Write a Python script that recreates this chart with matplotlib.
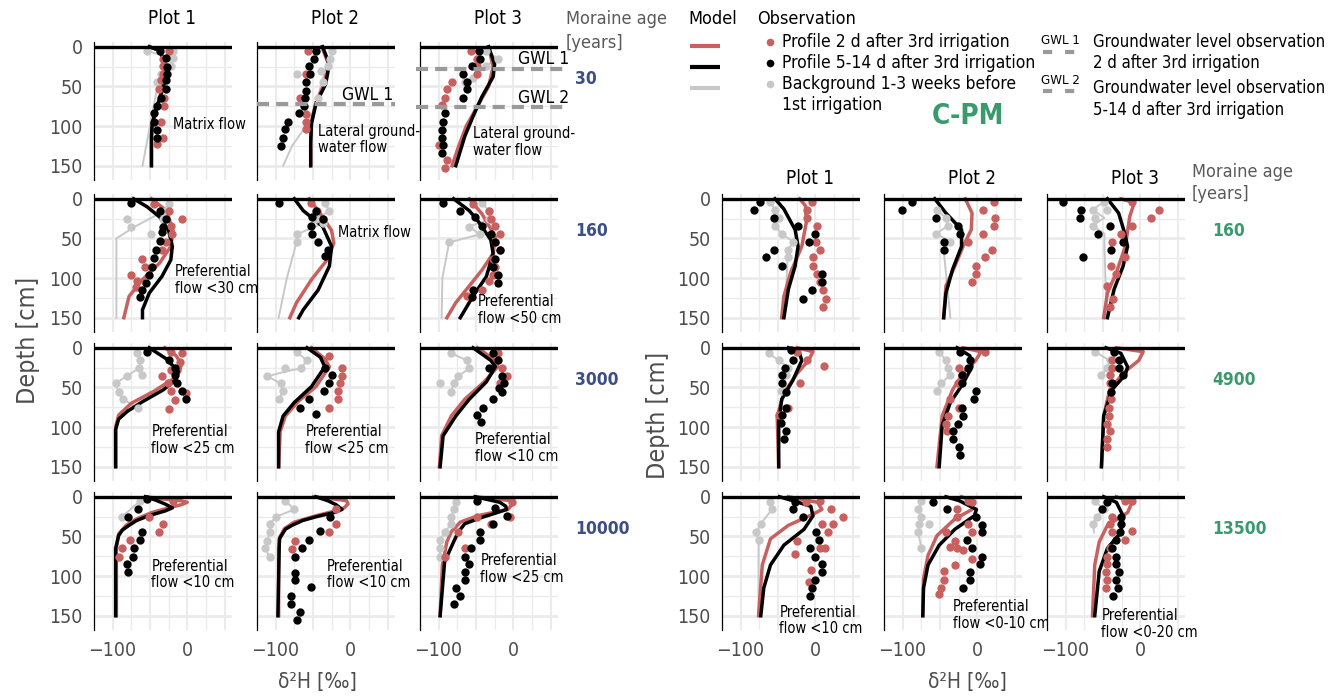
"""Isotope depth profiles (d2H) for S-PM and C-PM moraine chronosequences."""

import matplotlib
matplotlib.use("Agg")
import matplotlib.pyplot as plt

plt.rcParams['font.family'] = ['DejaVu Sans']
plt.rcParams['font.stretch'] = 'condensed'

W, H = 1342, 696

RED = '#c8605f'
GREY = '#c8c8c8'
GRID = '#ebebeb'
TICK = '#4d4d4d'
BLUE = '#3b4f86'
GREEN = '#3a9a6e'

# Every series is a list of (depth [cm], d2H [permil]) pairs.
# *_red_line / *_black_line / *_grey_line : model (2 d, 5-14 d, background)
# *_red_obs / *_black_obs / *_grey_obs   : observations

# ---- S-PM, moraine age 30 years ----
s30_p1_red_line = [(0, -50), (5, -37), (20, -31), (45, -32), (65, -37), (80, -43), (100, -47), (120, -48), (150, -48)]
s30_p1_black_line = [(0, -51), (5, -36), (22, -30), (47, -31), (63, -36), (80, -42), (97, -47), (113, -48), (150, -48)]
s30_p1_grey_line = [(5, -54), (15, -20), (25, -24), (35, -33), (55, -41), (150, -60)]
s30_p1_red_obs = [(5, -25), (16, -32), (24, -33), (34, -32), (42, -35), (53, -38), (64, -31), (75, -31), (95, -35), (115, -33), (122, -41)]
s30_p1_black_obs = [(5, -36), (14, -28), (25, -27), (34, -27), (42, -28), (53, -29), (64, -35), (75, -41), (84, -45), (95, -44), (105, -41), (115, -41)]
s30_p1_grey_obs = [(5, -54), (5, -19), (14, -19), (24, -22), (34, -35), (45, -40)]

s30_p2_red_line = [(0, -38), (20, -30), (45, -34), (70, -46), (95, -52), (120, -53), (150, -53)]
s30_p2_black_line = [(0, -37), (22, -28), (47, -33), (72, -46), (97, -52), (120, -53), (150, -53)]
s30_p2_grey_line = [(5, -24), (15, -27), (25, -30), (40, -37), (55, -41), (75, -46), (105, -63), (125, -78), (150, -90)]
s30_p2_red_obs = [(5, -56), (34, -59), (64, -68), (85, -59), (95, -59), (104, -59)]
s30_p2_black_obs = [(5, -46), (15, -48), (24, -55), (34, -54), (45, -59), (56, -59), (64, -61), (75, -62), (84, -69), (95, -84), (104, -87), (115, -90), (125, -93)]
s30_p2_grey_obs = [(5, -24), (15, -27), (24, -30), (30, -39), (34, -71), (45, -37), (64, -43)]

s30_p3_red_line = [(0, -33), (25, -27), (50, -33), (75, -48), (100, -63), (125, -73), (150, -82)]
s30_p3_black_line = [(0, -33), (22, -25), (38, -27), (63, -42), (88, -54), (113, -65), (150, -77)]
s30_p3_grey_line = [(5, -36), (15, -21), (24, -36), (39, -54), (45, -65)]
s30_p3_red_obs = [(5, -57), (16, -48), (24, -48), (34, -48), (45, -82), (53, -89), (64, -92), (73, -95), (124, -99), (143, -89), (153, -92)]
s30_p3_black_obs = [(5, -46), (15, -45), (24, -55), (34, -68), (45, -62), (53, -62), (64, -68), (84, -92), (95, -94), (105, -95), (115, -95), (124, -94), (134, -95)]
s30_p3_grey_obs = [(5, -36), (15, -21), (24, -36), (39, -54), (45, -65)]

# ---- S-PM, moraine age 160 years ----
s160_p1_red_line = [(0, -48), (15, -28), (40, -19), (60, -22), (81, -37), (102, -60), (123, -78), (150, -85)]
s160_p1_black_line = [(0, -72), (10, -54), (23, -37), (40, -25), (60, -20), (77, -22), (98, -34), (119, -51), (140, -60), (150, -60)]
s160_p1_grey_line = [(5, -25), (15, -30), (35, -70), (50, -95), (150, -95)]
s160_p1_red_obs = [(6, -45), (15, -25), (26, -7), (34, -22), (45, -20), (54, -28), (65, -34), (76, -60), (86, -57), (96, -75), (104, -67), (111, -69)]
s160_p1_black_obs = [(5, -75), (15, -37), (26, -28), (35, -32), (42, -34), (53, -37), (65, -42), (75, -45), (86, -47), (96, -51), (106, -55), (115, -60), (124, -63)]
s160_p1_grey_obs = [(6, -25), (15, -30), (26, -81), (35, -75), (44, -48), (25, -33)]

s160_p2_red_line = [(0, -55), (19, -40), (40, -25), (56, -22), (77, -31), (102, -52), (131, -72), (150, -81)]
s160_p2_black_line = [(0, -75), (15, -63), (35, -37), (60, -25), (85, -28), (115, -43), (140, -63), (150, -69)]
s160_p2_grey_line = [(5, -34), (15, -28), (26, -46), (31, -37), (45, -72), (55, -72), (100, -85), (150, -96)]
s160_p2_red_obs = [(5, -52), (15, -45), (25, -37)]
s160_p2_black_obs = [(5, -96), (15, -46), (23, -51), (26, -37), (34, -52), (44, -51), (54, -43), (65, -30), (72, -34)]
s160_p2_grey_obs = [(5, -34), (15, -28), (26, -46), (31, -37), (45, -72), (55, -72)]

s160_p3_red_line = [(0, -59), (19, -42), (48, -24), (69, -27), (90, -42), (110, -59), (131, -77), (150, -89)]
s160_p3_black_line = [(0, -80), (15, -59), (27, -48), (52, -30), (69, -27), (98, -36), (123, -54), (150, -71)]
s160_p3_grey_line = [(5, -42), (15, -33), (26, -33), (35, -59), (45, -45), (55, -86), (100, -95), (150, -96)]
s160_p3_red_obs = [(6, -54), (15, -33), (26, -30), (34, -25), (45, -18), (55, -24), (65, -18), (76, -27), (86, -24), (96, -27), (104, -33), (115, -42), (123, -62)]
s160_p3_black_obs = [(5, -94), (15, -71), (23, -51), (34, -42), (44, -30), (54, -24), (65, -18), (76, -24), (86, -27), (96, -21), (106, -21), (115, -54), (124, -55)]
s160_p3_grey_obs = [(5, -42), (15, -33), (26, -33), (35, -59), (45, -45), (55, -86)]

# ---- S-PM, moraine age 3000 years ----
s3000_p1_red_line = [(0, -30), (10, -15), (20, -8), (30, -10), (40, -20), (55, -45), (70, -75), (85, -92), (100, -96), (150, -96)]
s3000_p1_black_line = [(0, -51), (14, -28), (30, -12), (40, -15), (53, -32), (68, -60), (80, -80), (90, -92), (103, -96), (150, -96)]
s3000_p1_grey_line = [(7, -67), (16, -63), (26, -65), (35, -80), (45, -96), (56, -92), (65, -86), (76, -66)]
s3000_p1_red_obs = [(5, -22), (7, -7), (18, -10), (28, -22), (36, -34), (45, -26), (55, -22), (57, -1), (66, -16), (77, -24)]
s3000_p1_black_obs = [(5, -54), (16, -25), (25, -16), (34, -16), (45, -14), (55, -7), (64, -2)]
s3000_p1_grey_obs = [(7, -67), (16, -63), (26, -65), (34, -60), (36, -81), (45, -96), (56, -92), (65, -86), (76, -66)]

s3000_p2_red_line = [(0, -52), (14, -34), (24, -28), (49, -46), (67, -69), (86, -87), (106, -94), (150, -96)]
s3000_p2_black_line = [(0, -58), (12, -40), (24, -34), (49, -52), (69, -75), (86, -90), (106, -96), (150, -96)]
s3000_p2_grey_line = [(5, -72), (16, -58), (26, -66), (30, -87), (36, -111), (45, -93), (55, -90), (65, -96)]
s3000_p2_red_obs = [(10, -28), (26, -11), (36, -11), (45, -14), (55, -17), (65, -17), (76, -28)]
s3000_p2_black_obs = [(25, -34), (34, -25), (45, -28), (55, -35), (65, -55), (76, -68), (83, -46)]
s3000_p2_grey_obs = [(5, -72), (16, -58), (26, -87), (26, -66), (36, -111), (45, -93), (55, -90), (65, -96)]

s3000_p3_red_line = [(0, -48), (16, -24), (24, -21), (43, -39), (65, -65), (86, -83), (111, -96), (150, -99)]
s3000_p3_black_line = [(0, -54), (16, -30), (24, -24), (43, -36), (65, -59), (86, -77), (111, -94), (150, -98)]
s3000_p3_grey_line = [(7, -83), (16, -62), (26, -59), (36, -74), (45, -80), (56, -83)]
s3000_p3_red_obs = [(7, -21), (26, -15), (36, -9), (45, -18)]
s3000_p3_black_obs = [(7, -27), (16, -21), (26, -33), (36, -15), (45, -12), (51, -19), (56, -15), (65, -27), (76, -41), (85, -48), (93, -43)]
s3000_p3_grey_obs = [(7, -83), (16, -62), (26, -59), (36, -74), (45, -80), (45, -98), (56, -83)]

# ---- S-PM, moraine age 10000 years ----
s10000_p1_red_line = [(0, -56), (3, -30), (5, -8), (7, 0), (10, -8), (14, -25), (20, -48), (28, -68), (36, -82), (47, -92), (65, -95), (150, -95)]
s10000_p1_black_line = [(0, -56), (4, -43), (9, -30), (14, -20), (18, -30), (24, -52), (30, -68), (36, -78), (42, -87), (49, -92), (65, -96), (150, -96)]
s10000_p1_grey_line = [(5, -63), (25, -87), (30, -88)]
s10000_p1_red_obs = [(5, -19), (25, -51), (34, -32), (45, -38), (55, -77), (65, -87), (76, -92)]
s10000_p1_black_obs = [(3, -54), (16, -66), (25, -79), (45, -61), (55, -63), (65, -71), (76, -73), (85, -81), (95, -79)]
s10000_p1_grey_obs = [(5, -63), (25, -87)]

s10000_p2_red_line = [(0, -49), (3, -20), (5, -5), (9, -3), (14, -8), (19, -25), (24, -46), (32, -75), (40, -88), (50, -94), (65, -96), (150, -96)]
s10000_p2_black_line = [(0, -46), (5, -30), (10, -19), (16, -11), (20, -22), (25, -45), (30, -64), (36, -78), (41, -87), (53, -95), (150, -97)]
s10000_p2_grey_line = [(5, -87), (16, -75), (25, -99), (34, -108), (45, -108), (56, -111), (65, -114), (76, -108)]
s10000_p2_red_obs = [(16, -19), (34, -19), (45, -28), (56, -74), (66, -78)]
s10000_p2_black_obs = [(25, -27), (43, -41), (55, -55), (65, -65), (76, -74), (96, -74), (105, -74), (114, -52), (125, -80), (135, -80), (145, -68), (155, -71)]
s10000_p2_grey_obs = [(5, -87), (16, -75), (25, -99), (34, -108), (45, -108), (56, -111), (65, -114), (76, -108)]

s10000_p3_red_line = [(0, -51), (3, -20), (5, -3), (9, -1), (16, -7), (20, -28), (24, -48), (32, -71), (44, -83), (57, -89), (86, -95), (150, -98)]
s10000_p3_black_line = [(0, -51), (4, -32), (7, -18), (12, -10), (16, -9), (21, -25), (26, -42), (34, -65), (45, -74), (57, -80), (82, -92), (150, -98)]
s10000_p3_grey_line = [(7, -77), (16, -80), (26, -83), (34, -83), (45, -92), (55, -98), (65, -98), (76, -98)]
s10000_p3_red_obs = [(7, -2), (25, -4), (26, -48), (34, -30), (45, -74), (65, -65), (76, -92)]
s10000_p3_black_obs = [(5, -48), (14, -24), (24, -9), (34, -27), (45, -45), (55, -45), (65, -57), (76, -65), (85, -59), (95, -65), (105, -65), (115, -77), (125, -71), (135, -80)]
s10000_p3_grey_obs = [(7, -77), (16, -80), (26, -83), (34, -83), (45, -92), (55, -98), (65, -98), (76, -98)]

# ---- C-PM, moraine age 160 years ----
c160_p1_red_line = [(0, -21), (9, -13), (30, -12), (60, -18), (93, -33), (123, -42), (150, -45)]
c160_p1_black_line = [(0, -54), (13, -42), (39, -27), (60, -23), (85, -27), (114, -36), (150, -42)]
c160_p1_grey_line = [(4, -60), (14, -54), (24, -48), (34, -54), (44, -45), (54, -30), (65, -36), (74, -37), (150, -41)]
c160_p1_red_obs = [(4, -5), (14, -11), (24, -11), (34, 3), (54, 1), (65, 7), (74, -3), (85, -3), (95, 3), (105, 6), (115, 11), (126, 14), (136, 11)]
c160_p1_black_obs = [(4, -74), (14, -82), (24, -55), (34, -23), (44, 0), (54, -9), (65, -55), (74, -66), (85, -45), (95, 9), (105, 9), (115, -5), (126, -17)]
c160_p1_grey_obs = [(4, -60), (14, -54), (24, -48), (34, -54), (44, -45), (54, -30), (65, -36), (74, -37)]

c160_p2_red_line = [(0, -16), (18, -7), (39, -8), (60, -19), (85, -30), (110, -42), (150, -45)]
c160_p2_black_line = [(0, -57), (18, -42), (39, -21), (60, -21), (89, -33), (119, -42), (150, -45)]
c160_p2_grey_line = [(14, -54), (24, -42), (34, -39), (44, -55), (54, -36), (65, -45), (150, -36)]
c160_p2_red_obs = [(4, 23), (14, 8), (24, 24), (34, 22), (44, 8), (54, -13), (65, 20), (74, 10), (85, -2), (95, -2), (105, -7)]
c160_p2_black_obs = [(4, -87), (14, -101), (24, -55), (34, -26), (44, -23), (54, -45), (65, -45)]
c160_p2_grey_obs = [(14, -54), (24, -42), (34, -39), (44, -55), (54, -36), (65, -45)]

c160_p3_red_line = [(0, -26), (5, -8), (22, -14), (60, -20), (93, -32), (119, -44), (150, -49)]
c160_p3_black_line = [(0, -44), (18, -29), (43, -21), (60, -17), (85, -23), (114, -35), (150, -44)]
c160_p3_grey_line = [(4, -49), (14, -64), (24, -48), (34, -64), (44, -48), (60, -48), (150, -45)]
c160_p3_red_obs = [(4, -11), (14, 25), (24, 14), (34, -11), (44, -26), (54, -38), (74, -20), (85, -39), (95, -33), (110, -44), (126, -36), (136, -41)]
c160_p3_black_obs = [(4, -103), (14, -79), (24, -81), (34, -41), (44, -57), (54, -23), (65, -39), (74, -77)]
c160_p3_grey_obs = [(4, -49), (14, -64), (24, -61), (34, -64), (14, -45)]

# ---- C-PM, moraine age 4900 years ----
c4900_p1_red_line = [(0, -24), (5, -3), (16, -9), (32, -24), (57, -42), (86, -51), (150, -49)]
c4900_p1_black_line = [(0, -36), (7, -21), (16, -18), (41, -30), (65, -45), (94, -49), (150, -49)]
c4900_p1_grey_line = [(7, -62), (16, -49), (25, -36), (34, -39), (55, -46)]
c4900_p1_red_obs = [(5, -25), (16, -11), (23, 12), (45, -21), (76, -36), (85, -49)]
c4900_p1_black_obs = [(3, -33), (16, -30), (25, -41), (34, -45), (45, -45), (56, -39), (76, -39), (85, -45), (95, -46), (105, -39), (115, -42)]
c4900_p1_grey_obs = [(7, -62), (16, -49), (25, -36), (34, -39), (55, -46)]

c4900_p2_red_line = [(0, -19), (5, 5), (16, -2), (32, -19), (53, -33), (86, -47), (150, -54)]
c4900_p2_black_line = [(0, -27), (10, -10), (24, -7), (45, -19), (69, -36), (98, -47), (150, -51)]
c4900_p2_grey_line = [(5, -51), (16, -42), (26, -39), (34, -36), (45, -48), (55, -54)]
c4900_p2_red_obs = [(5, 10), (26, -24), (34, -20), (45, -26), (65, -36), (76, -24), (86, -39), (96, -42), (105, -41)]
c4900_p2_black_obs = [(5, -23), (16, -10), (25, -13), (34, -21), (45, -20), (55, -1), (65, -4), (76, -20), (86, -19), (96, -26), (105, -32), (115, -32), (125, -24), (135, -23)]
c4900_p2_grey_obs = [(5, -51), (16, -42), (26, -39), (34, -36), (45, -48), (55, -54)]

c4900_p3_red_line = [(0, -32), (5, 4), (16, -2), (32, -23), (53, -41), (86, -49), (150, -52)]
c4900_p3_black_line = [(0, -46), (7, -26), (24, -17), (34, -20), (53, -38), (86, -49), (150, -52)]
c4900_p3_grey_line = [(5, -61), (16, -41), (26, -44), (34, -52)]
c4900_p3_red_obs = [(16, -38), (26, -38), (34, -41), (45, -41), (65, -39), (76, -42), (86, -42), (96, -44), (105, -41), (115, -44), (125, -44)]
c4900_p3_black_obs = [(5, -35), (16, -29), (25, -29), (34, -23), (45, -38), (56, -39)]
c4900_p3_grey_obs = [(5, -61), (16, -41), (26, -44), (34, -52)]

# ---- C-PM, moraine age 13500 years ----
c13500_p1_red_line = [(0, -36), (7, 3), (16, 9), (22, -3), (36, -36), (53, -60), (86, -71), (150, -76)]
c13500_p1_black_line = [(0, -48), (5, -30), (12, -6), (24, -3), (41, -15), (61, -42), (86, -60), (115, -69), (150, -73)]
c13500_p1_grey_line = [(7, -61), (16, -58), (34, -73), (45, -79), (55, -76), (150, -76)]
c13500_p1_red_obs = [(7, -13), (5, 6), (16, 21), (26, 37), (34, 9), (34, 24), (45, 17), (56, -25), (65, 7), (65, 13), (72, -27), (92, -6), (107, -9)]
c13500_p1_black_obs = [(7, -27), (15, -30), (25, -17), (45, 1), (55, 5), (65, -7), (76, 0), (85, 9), (95, 9), (105, 0), (115, -5), (125, -7)]
c13500_p1_grey_obs = [(7, -61), (16, -58), (34, -73), (45, -79), (55, -76)]

c13500_p2_red_line = [(0, -21), (5, -7), (16, -7), (28, -30), (49, -54), (74, -66), (103, -72), (150, -73)]
c13500_p2_black_line = [(0, -42), (5, -24), (16, -1), (24, -4), (41, -30), (61, -51), (86, -66), (115, -72), (150, -73)]
c13500_p2_grey_line = [(5, -75), (16, -79), (25, -75), (34, -78), (45, -79), (65, -75)]
c13500_p2_red_obs = [(5, -13), (7, -7), (16, -27), (26, -27), (34, -13), (45, -42), (45, -7), (56, -30), (63, -36), (65, -27), (67, -19), (78, -7), (86, -30), (94, -44), (105, -44), (115, -49), (123, -51)]
c13500_p2_black_obs = [(7, -59), (16, -41), (26, -2), (36, 7), (45, 7), (55, -14), (65, -7), (76, 7), (85, 4), (95, -10), (105, -10), (115, -19)]
c13500_p2_grey_obs = [(5, -75), (16, -79), (25, -75), (34, -78), (34, -65), (45, -79), (65, -75)]

c13500_p3_red_line = [(0, -32), (7, -11), (20, -17), (36, -44), (57, -55), (86, -61), (150, -64)]
c13500_p3_black_line = [(0, -49), (7, -32), (24, -23), (45, -26), (65, -44), (94, -55), (150, -61)]
c13500_p3_grey_line = [(5, -61), (16, -49), (25, -58), (34, -63), (45, -62)]
c13500_p3_red_obs = [(5, -20), (5, -11), (26, -38), (34, -41), (43, -11), (45, -38), (55, -20), (65, -41), (76, -44), (85, -44), (95, -46), (105, -44), (115, -46)]
c13500_p3_black_obs = [(7, -44), (16, -51), (25, -26), (34, -26), (45, -27), (55, -32), (65, -38), (76, -32), (85, -32), (95, -29), (105, -32), (115, -30), (125, -36)]
c13500_p3_grey_obs = [(5, -61), (16, -49), (25, -58), (34, -63)]

# Groundwater levels (depth cm) at the 30-year S-PM site
gwl_plot2 = [72]
gwl_plot3 = [28, 76]

s_pm_ages = ['30', '160', '3000', '10000']
c_pm_ages = ['160', '4900', '13500']
plot_names = ['Plot 1', 'Plot 2', 'Plot 3']
x_ticks = [-100, 0]
y_ticks = [0, 50, 100, 150]


def series(name):
    pairs = globals()[name]
    return [p[1] for p in pairs], [p[0] for p in pairs]


def ftext(x, y, s, **kw):
    """Figure text placed in pixel coordinates (origin top-left)."""
    kw.setdefault('va', 'center')
    fig.text(x / W, 1 - y / H, s, **kw)


def new_axes(x, y, w=138, h=138):
    return fig.add_axes([x / W, 1 - (y + h) / H, w / W, h / H])


def draw_panel(ax, prefix, plot_no):
    key = f"{prefix}_p{plot_no}"
    ax.set_xlim(-125, 60)
    ax.set_ylim(168, -6)
    for v in range(-100, 51, 25):
        ax.axvline(v, color=GRID, lw=1.5 if v % 50 == 0 else 1.0, zorder=0)
    for d in range(0, 151, 25):
        ax.axhline(d, color=GRID, lw=2.0 if d % 50 == 0 else 1.0, zorder=0)

    ax.plot(*series(key + '_grey_line'), color=GREY, lw=1.4, zorder=2)
    ax.plot(*series(key + '_red_line'), color=RED, lw=2.5, zorder=3)
    ax.plot(*series(key + '_black_line'), color='black', lw=2.5, zorder=4)
    ax.plot(*series(key + '_grey_obs'), 'o', color=GREY, ms=6, mec='none', zorder=5)
    ax.plot(*series(key + '_red_obs'), 'o', color=RED, ms=6, mec='none', zorder=6)
    ax.plot(*series(key + '_black_obs'), 'o', color='black', ms=6, mec='none', zorder=7)

    ax.axhline(0, color='black', lw=2.4, zorder=8)
    for s in ['top', 'right', 'bottom']:
        ax.spines[s].set_visible(False)
    ax.spines['left'].set_linewidth(0.9)
    ax.tick_params(length=0, labelsize=14, labelcolor=TICK, pad=8)
    ax.set_xticks(x_ticks)
    ax.set_yticks(y_ticks)
    ax.set_xticklabels([])
    ax.set_yticklabels([])


def annotate(ax, x, y, s):
    ax.text(x, y, s, fontsize=10.5, ha='left', va='center', linespacing=1.15, zorder=10)


fig = plt.figure(figsize=(W / 100, H / 100), dpi=100)

left_x = [94, 257, 420]
right_x = [722, 884, 1047]
row_y = [42, 194, 343, 492]
s_prefixes = ['s30', 's160', 's3000', 's10000']
c_prefixes = ['c160', 'c4900', 'c13500']

axes_s = [[None] * 3 for _ in range(4)]
axes_c = [[None] * 3 for _ in range(3)]

for r, prefix in enumerate(s_prefixes):
    for c in range(3):
        ax = new_axes(left_x[c], row_y[r])
        draw_panel(ax, prefix, c + 1)
        axes_s[r][c] = ax
        if c == 0:
            ax.set_yticklabels([str(t) for t in y_ticks])
        if r == 3:
            ax.set_xticklabels(['\u2212100', '0'])

for r, prefix in enumerate(c_prefixes):
    for c in range(3):
        ax = new_axes(right_x[c], row_y[r + 1])
        draw_panel(ax, prefix, c + 1)
        axes_c[r][c] = ax
        if c == 0:
            ax.set_yticklabels([str(t) for t in y_ticks])
        if r == 2:
            ax.set_xticklabels(['\u2212100', '0'])

# groundwater levels
gwl_style = dict(color='#9a9a9a', lw=3, dashes=(2.9, 1.7), zorder=9)
for d in gwl_plot2:
    axes_s[0][1].axhline(d, **gwl_style)
for d in gwl_plot3:
    axes_s[0][2].plot([-130, 68], [d, d], clip_on=False, **gwl_style)
axes_s[0][1].text(-11, 61, 'GWL 1', fontsize=12.5, va='center')
axes_s[0][2].text(7, 16, 'GWL 1', fontsize=12.5, va='center')
axes_s[0][2].text(7, 64, 'GWL 2', fontsize=12.5, va='center')

# flow-type annotations
annotate(axes_s[0][0], -19, 98, 'Matrix flow')
annotate(axes_s[0][1], -43, 117, 'Lateral ground-\nwater flow')
annotate(axes_s[0][2], -54, 120, 'Lateral ground-\nwater flow')
annotate(axes_s[1][0], -17, 102, 'Preferential\nflow <30 cm')
annotate(axes_s[1][1], -17, 43, 'Matrix flow')
annotate(axes_s[1][2], -47, 140, 'Preferential\nflow <50 cm')
annotate(axes_s[2][0], -48, 116, 'Preferential\nflow <25 cm')
annotate(axes_s[2][1], -60, 116, 'Preferential\nflow <25 cm')
annotate(axes_s[2][2], -51, 126, 'Preferential\nflow <10 cm')
annotate(axes_s[3][0], -48, 98, 'Preferential\nflow <10 cm')
annotate(axes_s[3][1], -31, 98, 'Preferential\nflow <10 cm')
annotate(axes_s[3][2], -44, 91, 'Preferential\nflow <25 cm')
annotate(axes_c[2][0], -48, 156, 'Preferential\nflow <10 cm')
annotate(axes_c[2][1], -33, 149, 'Preferential\nflow <0-10 cm')
annotate(axes_c[2][2], -52, 160, 'Preferential\nflow <0-20 cm')

# column titles
for c, name in enumerate(plot_names):
    ftext(left_x[c] + 78, 19, name, fontsize=13.5, ha='center')
    ftext(right_x[c] + 88, 178, name, fontsize=13.5, ha='center')

# moraine ages
ftext(566, 19, 'Moraine age', fontsize=13, color='#5a5a5a')
ftext(566, 43, '[years]', fontsize=13, color='#5a5a5a')
ftext(1192, 172, 'Moraine age', fontsize=13, color='#5a5a5a')
ftext(1192, 194, '[years]', fontsize=13, color='#5a5a5a')
for r, age in enumerate(s_pm_ages):
    ftext(575, row_y[r] + 37, age, fontsize=12.5, fontweight='bold', color=BLUE)
for r, age in enumerate(c_pm_ages):
    ftext(1212, row_y[r + 1] + 37, age, fontsize=12.5, fontweight='bold', color=GREEN)

ftext(968, 116, 'C-PM', fontsize=20, fontweight='bold', color=GREEN, ha='center')

# axis titles
ftext(28, 340, 'Depth [cm]', fontsize=18, color=TICK, rotation=90, ha='center')
ftext(658, 415, 'Depth [cm]', fontsize=18, color=TICK, rotation=90, ha='center')
ftext(317, 682, '\u03b4\u00b2H [\u2030]', fontsize=15, color=TICK, ha='center')
ftext(967, 682, '\u03b4\u00b2H [\u2030]', fontsize=15, color=TICK, ha='center')

# legend, drawn in pixel space
leg = fig.add_axes([0, 0, 1, 1], zorder=-1)
leg.set_xlim(0, W)
leg.set_ylim(H, 0)
leg.axis('off')
ftext(688, 19, 'Model', fontsize=13)
ftext(757, 19, 'Observation', fontsize=13)
for yy, col in zip([46, 67, 88], [RED, 'black', GREY]):
    leg.plot([690, 720], [yy, yy], color=col, lw=3, solid_capstyle='butt')
for yy, col in zip([42, 63, 84], [RED, 'black', GREY]):
    leg.plot([770], [yy], 'o', color=col, ms=5.5, mec='none')
ftext(782, 42, 'Profile 2 d after 3rd irrigation', fontsize=12.5)
ftext(782, 63, 'Profile 5-14 d after 3rd irrigation', fontsize=12.5)
ftext(782, 84, 'Background 1-3 weeks before', fontsize=12.5)
ftext(782, 105, '1st irrigation', fontsize=12.5)
ftext(1060, 41, 'GWL 1', fontsize=9.5, ha='center')
ftext(1060, 80, 'GWL 2', fontsize=9.5, ha='center')
for yy in [52, 91]:
    leg.plot([1043, 1076], [yy, yy], color='#9a9a9a', lw=3, dashes=(2.2, 3.1))
ftext(1093, 42, 'Groundwater level observation', fontsize=12)
ftext(1093, 63, '2 d after 3rd irrigation', fontsize=12)
ftext(1093, 88, 'Groundwater level observation', fontsize=12)
ftext(1093, 110, '5-14 d after 3rd irrigation', fontsize=12)

fig.savefig('out.png', dpi=100)
